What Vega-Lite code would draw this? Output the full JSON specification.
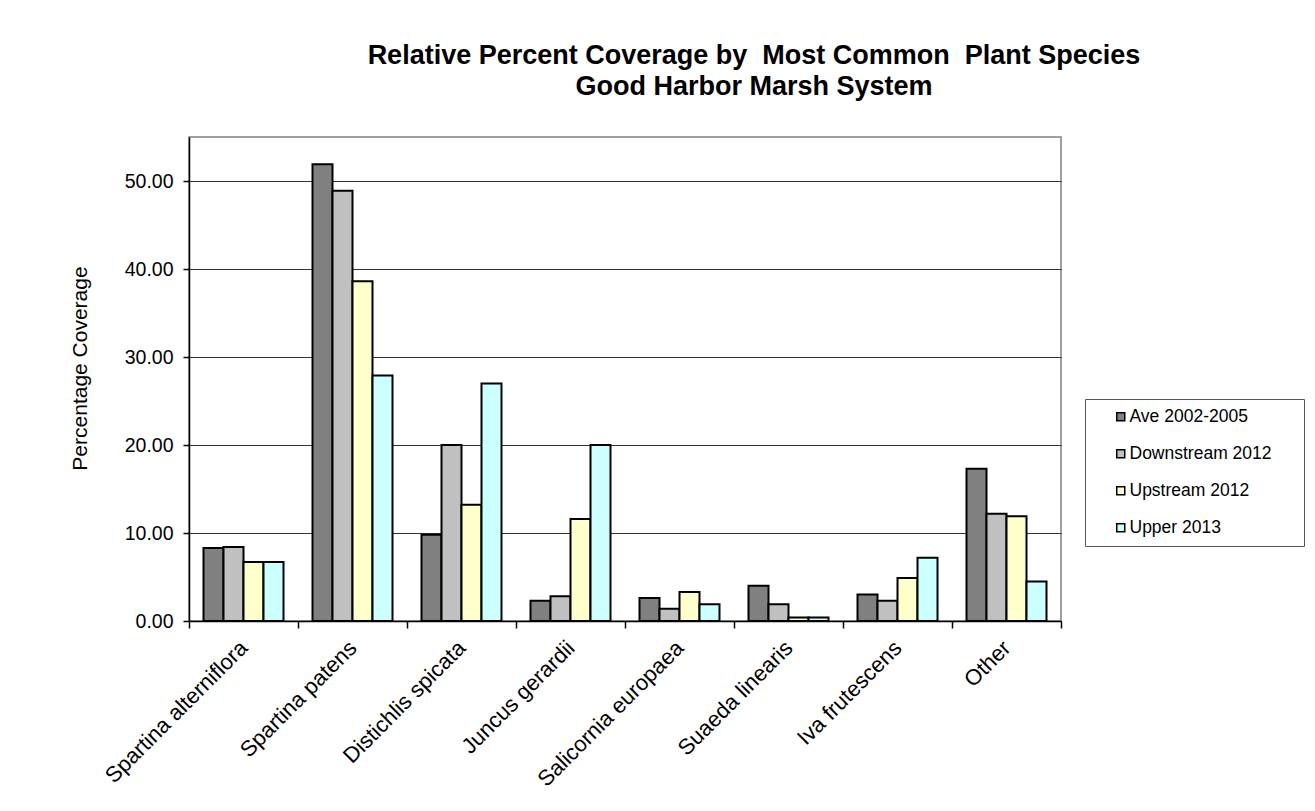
{
  "$schema": "https://vega.github.io/schema/vega-lite/v6.json",
  "width": 872,
  "height": 484,
  "autosize": {"type": "none"},
  "padding": {"left": 189, "top": 137, "right": 254, "bottom": 190},
  "background": "white",
  "title": {
    "text": ["Relative Percent Coverage by \u00a0Most Common \u00a0Plant Species", "Good Harbor Marsh System"],
    "font": "Liberation Sans",
    "fontSize": 27,
    "fontWeight": "bold",
    "color": "#000000",
    "anchor": "middle",
    "frame": "group",
    "dx": 129,
    "lineHeight": 31,
    "offset": 36
  },
  "data": {
    "values": [
      {"species": "Spartina alterniflora", "series": "Ave 2002-2005", "cover": 8.3},
      {"species": "Spartina alterniflora", "series": "Downstream 2012", "cover": 8.4},
      {"species": "Spartina alterniflora", "series": "Upstream 2012", "cover": 6.7},
      {"species": "Spartina alterniflora", "series": "Upper 2013", "cover": 6.7},
      {"species": "Spartina patens", "series": "Ave 2002-2005", "cover": 51.9},
      {"species": "Spartina patens", "series": "Downstream 2012", "cover": 48.9},
      {"species": "Spartina patens", "series": "Upstream 2012", "cover": 38.6},
      {"species": "Spartina patens", "series": "Upper 2013", "cover": 27.9},
      {"species": "Distichlis spicata", "series": "Ave 2002-2005", "cover": 9.8},
      {"species": "Distichlis spicata", "series": "Downstream 2012", "cover": 20.0},
      {"species": "Distichlis spicata", "series": "Upstream 2012", "cover": 13.2},
      {"species": "Distichlis spicata", "series": "Upper 2013", "cover": 27.0},
      {"species": "Juncus gerardii", "series": "Ave 2002-2005", "cover": 2.3},
      {"species": "Juncus gerardii", "series": "Downstream 2012", "cover": 2.8},
      {"species": "Juncus gerardii", "series": "Upstream 2012", "cover": 11.6},
      {"species": "Juncus gerardii", "series": "Upper 2013", "cover": 20.0},
      {"species": "Salicornia europaea", "series": "Ave 2002-2005", "cover": 2.6},
      {"species": "Salicornia europaea", "series": "Downstream 2012", "cover": 1.4},
      {"species": "Salicornia europaea", "series": "Upstream 2012", "cover": 3.3},
      {"species": "Salicornia europaea", "series": "Upper 2013", "cover": 1.9},
      {"species": "Suaeda linearis", "series": "Ave 2002-2005", "cover": 4.0},
      {"species": "Suaeda linearis", "series": "Downstream 2012", "cover": 1.9},
      {"species": "Suaeda linearis", "series": "Upstream 2012", "cover": 0.4},
      {"species": "Suaeda linearis", "series": "Upper 2013", "cover": 0.4},
      {"species": "Iva frutescens", "series": "Ave 2002-2005", "cover": 3.0},
      {"species": "Iva frutescens", "series": "Downstream 2012", "cover": 2.3},
      {"species": "Iva frutescens", "series": "Upstream 2012", "cover": 4.9},
      {"species": "Iva frutescens", "series": "Upper 2013", "cover": 7.2},
      {"species": "Other", "series": "Ave 2002-2005", "cover": 17.3},
      {"species": "Other", "series": "Downstream 2012", "cover": 12.2},
      {"species": "Other", "series": "Upstream 2012", "cover": 11.9},
      {"species": "Other", "series": "Upper 2013", "cover": 4.5}
    ]
  },
  "mark": {"type": "bar", "stroke": "#000000", "strokeWidth": 2, "opacity": 1},
  "encoding": {
    "x": {
      "field": "species",
      "type": "nominal",
      "sort": null,
      "scale": {"paddingInner": 0, "paddingOuter": 0},
      "axis": {
        "title": null,
        "labelAngle": -45,
        "labelAlign": "right",
        "labelBaseline": "middle",
        "labelFont": "Liberation Sans",
        "labelFontSize": 22,
        "labelColor": "#000000",
        "labelPadding": 16,
        "labelLimit": 400,
        "tickBand": "extent",
        "tickSize": 7,
        "tickColor": "#000000",
        "domainColor": "#000000",
        "domainWidth": 1.5,
        "tickWidth": 1.5
      }
    },
    "xOffset": {
      "field": "series",
      "type": "nominal",
      "sort": ["Ave 2002-2005", "Downstream 2012", "Upstream 2012", "Upper 2013"],
      "scale": {"paddingInner": 0, "paddingOuter": 0.725}
    },
    "y": {
      "field": "cover",
      "type": "quantitative",
      "scale": {"domain": [0, 55], "nice": false},
      "axis": {
        "title": "Percentage Coverage",
        "titleFont": "Liberation Sans",
        "titleFontSize": 21,
        "titleFontWeight": "normal",
        "titleColor": "#000000",
        "titlePadding": 34,
        "titleY": 231,
        "values": [0, 10, 20, 30, 40, 50],
        "format": ".2f",
        "labelFont": "Liberation Sans",
        "labelFontSize": 19.5,
        "labelColor": "#000000",
        "labelPadding": 10,
        "tickSize": 6,
        "tickColor": "#000000",
        "tickWidth": 1.5,
        "domainColor": "#000000",
        "domainWidth": 1.5,
        "grid": true,
        "gridColor": "#333333",
        "gridWidth": 1.2
      }
    },
    "color": {
      "field": "series",
      "type": "nominal",
      "sort": ["Ave 2002-2005", "Downstream 2012", "Upstream 2012", "Upper 2013"],
      "scale": {
        "domain": ["Ave 2002-2005", "Downstream 2012", "Upstream 2012", "Upper 2013"],
        "range": ["#808080", "#C0C0C0", "#FFFFCC", "#CCFFFF"]
      },
      "legend": {
        "title": null,
        "orient": "none",
        "legendX": 896,
        "legendY": 262,
        "padding": 9,
        "strokeColor": "#555555",
        "fillColor": "#FFFFFF",
        "symbolType": "square",
        "symbolSize": 64,
        "symbolStrokeColor": "#000000",
        "symbolStrokeWidth": 1.5,
        "symbolOffset": 18,
        "labelOffset": 0,
        "labelFont": "Liberation Sans",
        "labelFontSize": 17.5,
        "labelColor": "#000000",
        "labelExpr": "datum.label + '\u00a0\u00a0\u2800'",
        "labelLimit": 400,
        "rowPadding": 18
      }
    }
  },
  "config": {
    "view": {"stroke": "#808080", "strokeWidth": 1.5},
    "axis": {"labelFlush": false}
  }
}
